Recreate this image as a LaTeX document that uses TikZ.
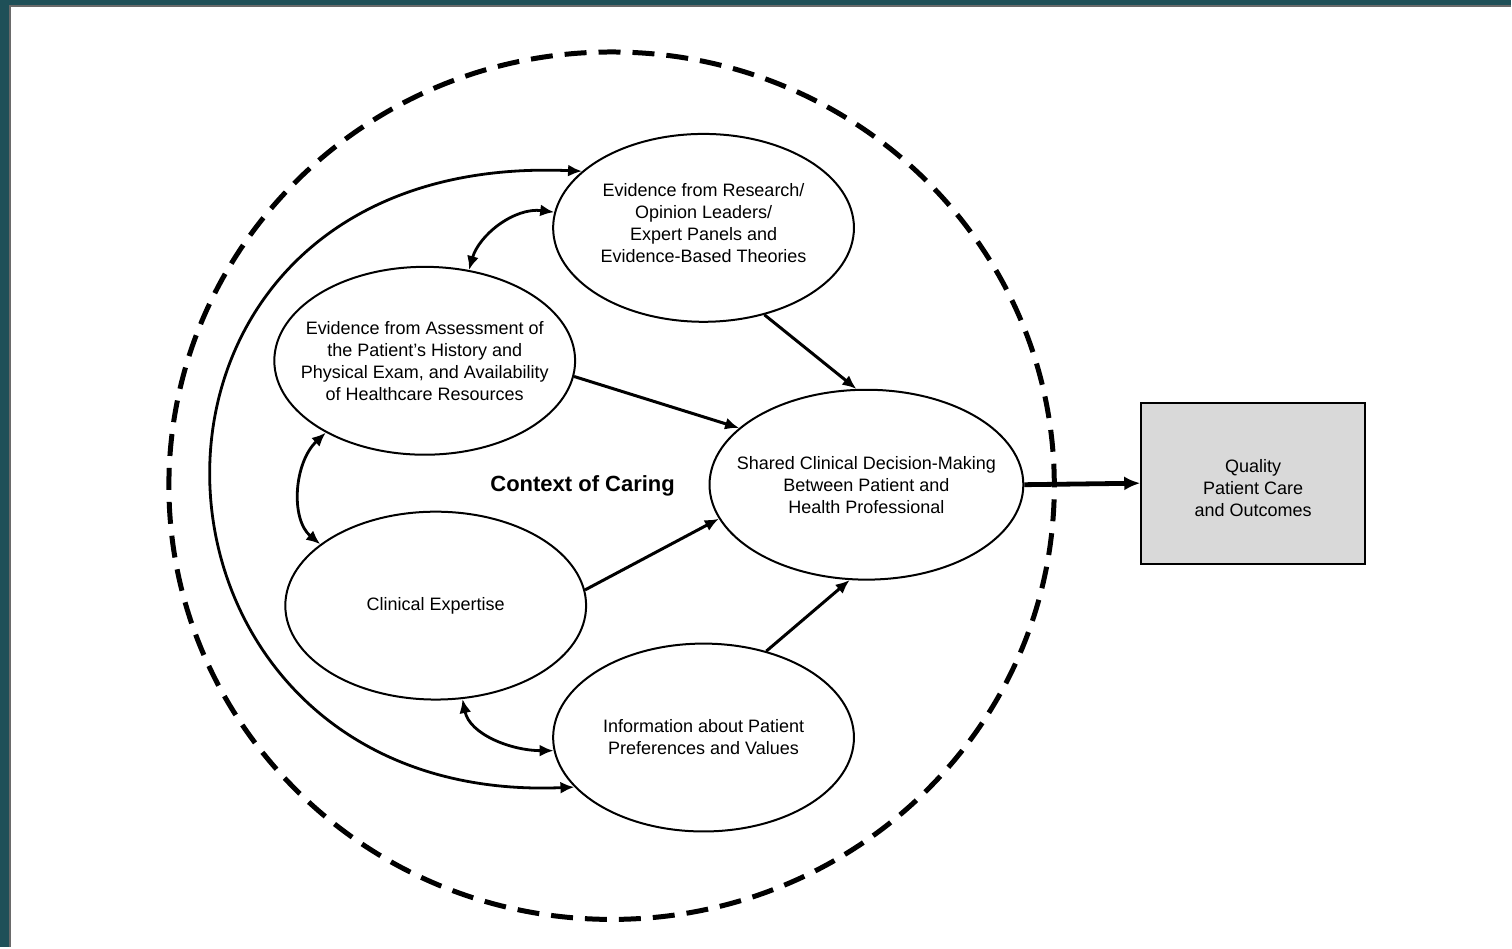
\documentclass[tikz,border=0pt]{standalone}
\usepackage{fontspec}
\setmainfont{Liberation Sans}
\usetikzlibrary{shapes.geometric,arrows.meta}
\definecolor{teal0}{HTML}{1F5058}
\definecolor{boxgray}{HTML}{D9D9D9}
\definecolor{rimgray}{HTML}{6A6A6A}
\begin{document}
\begin{tikzpicture}[x=0.5pt,y=-0.5pt,
  oval/.style={ellipse,draw,line width=1pt,inner sep=0pt,minimum width=150.5pt,minimum height=94pt},
  txt/.style={align=center,font=\fontsize{9}{11}\selectfont,inner sep=0pt},
  conn/.style={line width=1.5pt,-{Latex[length=7pt,width=6pt]}},
  biconn/.style={line width=1.4pt,{Latex[length=7pt,width=6pt]}-{Latex[length=7pt,width=6pt]}},
  outbox/.style={draw,line width=1pt,fill=boxgray,minimum width=112pt,minimum height=80.5pt,inner sep=0pt},
  ctx/.style={font=\bfseries\fontsize{11}{13}\selectfont}
]
% frame
\fill[teal0] (0,0) rectangle (1512,948);
\fill[white] (10,5) rectangle (1512,948);
\draw[rimgray,line width=1pt] (10,948) -- (10,6) -- (1512,6);
\useasboundingbox (0,0) rectangle (1512,948);

% context circle
\draw[line width=2.5pt,dash pattern=on 11pt off 6pt] (612,486) ellipse [x radius=221.5pt,y radius=217pt];

% nodes
\node[oval,label={[txt,yshift=2.5pt]center:Evidence from Research/\\Opinion Leaders/\\Expert Panels and\\Evidence-Based Theories}] (E1) at (704,228) {};
\node[oval,label={[txt]center:Evidence from Assessment of\\the Patient's History and\\Physical Exam, and Availability\\of Healthcare Resources}] (E2) at (425,361) {};
\node[oval,label={[txt]center:Clinical Expertise}] (E3) at (436,606) {};
\node[oval,label={[txt]center:Information about Patient\\Preferences and Values}] (E4) at (704,738) {};
\node[oval,minimum width=157pt,minimum height=95pt,label={[txt]center:Shared Clinical Decision-Making\\Between Patient and\\Health Professional}] (E5) at (867,485) {};
\node[outbox,label={[txt,yshift=-2.2pt]center:Quality\\Patient Care\\and Outcomes}] (Q) at (1254,483.5) {};
\node[ctx] (C) at (583,486) {Context of Caring};

% connectors
\draw[biconn] (E4.201) .. controls +(-470,20) and +(-505,-22) .. (E1.155);
\draw[biconn] (E1.174) .. controls +(-40,-5) and +(10,-35) .. (E2.64);
\draw[biconn] (E2.216) .. controls +(-32,30) and +(-30,-25) .. (E3.152);
\draw[biconn] (E3.286) .. controls +(7,35) and +(-43,0) .. (E4.185);
\draw[conn] (E1.305) -- (E5.96);
\draw[conn] (E2.354) -- (E5.156);
\draw[conn] (E3.6) -- (E5.193);
\draw[conn] (E4.54) -- (E5.260);
\draw[line width=2.4pt,-{Latex[length=8pt,width=7pt]}] (E5.east) -- (Q.west);
\end{tikzpicture}
\end{document}
